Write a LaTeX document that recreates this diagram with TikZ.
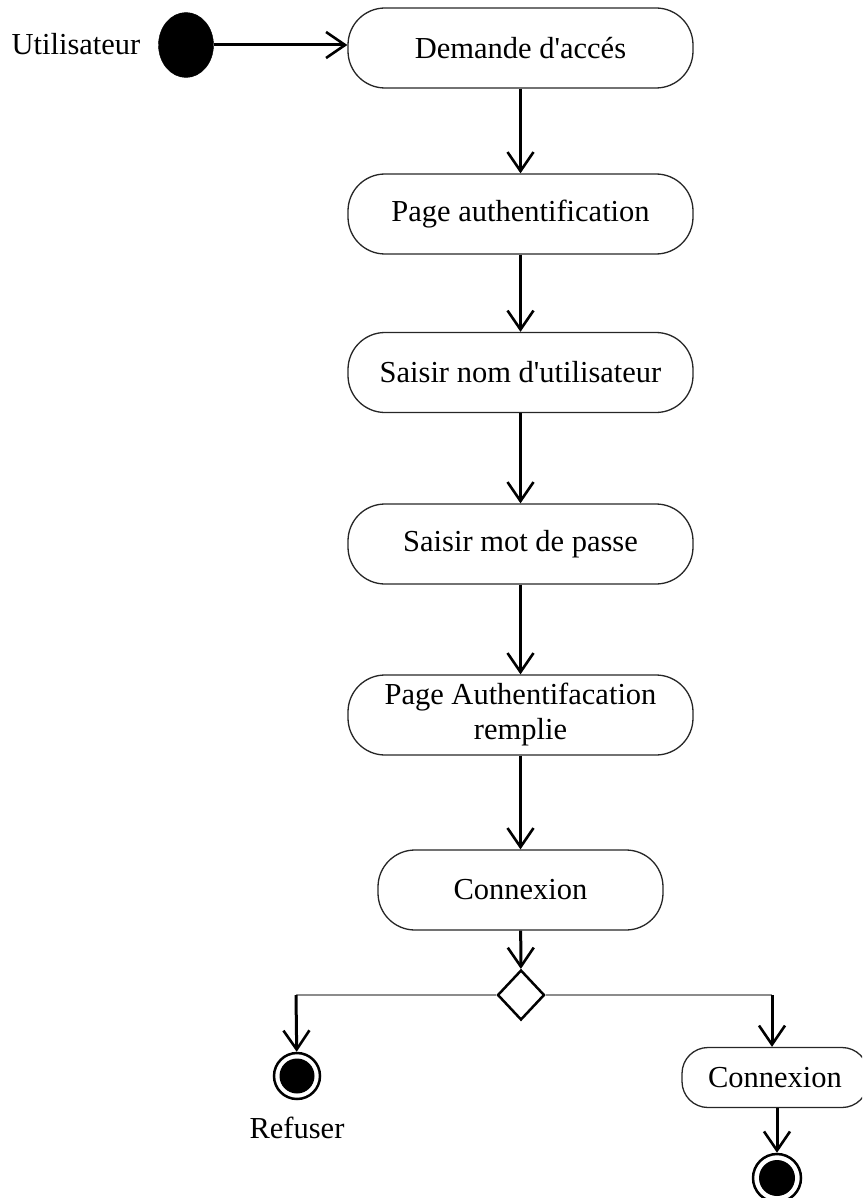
\documentclass[tikz,border=0pt]{standalone}
\usepackage{fontspec}
\setmainfont{Liberation Serif}[Ligatures=TeXOff]
\usetikzlibrary{arrows.meta,shapes.geometric}
\begin{document}
\begin{tikzpicture}[x=1pt,y=-1pt,
  every node/.style={font=\fontsize{30.5}{35}\selectfont},
  activity/.style={draw=black!85,line width=1.3pt,rounded corners=37pt,
    minimum width=345pt,minimum height=80pt,inner sep=0pt,align=center},
  flow/.style={line width=3pt,-{Straight Barb[length=19pt,width=26pt,line width=2.6pt]}},
  branch/.style={draw=black!45,line width=2pt},
]
\clip (0,0) rectangle (862,1198);

% start node and actor label
\node at (76,44) {Utilisateur};
\node (start) [ellipse,fill=black,draw=black,minimum width=55pt,minimum height=65pt,inner sep=0pt] at (186,45) {};

% activities
\node (a1) [activity] at (520.5,48)  {Demande d'accés};
\node (a2) [activity] at (520.5,214) {Page authentification};
\node (a3) [activity] at (520.5,372.5) {Saisir nom d'utilisateur};
\node (a4) [activity] at (520.5,544) {Saisir mot de passe};
\node (a5) [activity] at (520.5,715) {Page Authentifacation\\remplie};
\node (a6) [activity,minimum width=285pt] at (520.5,890) {Connexion};

% decision
\node (dec) [diamond,draw=black,line width=2.5pt,minimum width=47pt,minimum height=50pt,inner sep=0pt] at (521,995) {};

% refused branch
\coordinate (lturn) at (296,995);
\node (endL) [circle,draw=black,line width=2.5pt,minimum size=46pt,inner sep=0pt] at (297,1076) {};
\fill[black] (endL.center) circle (17.5pt);
\node at (297,1128) {Refuser};

% accepted branch
\coordinate (rturn) at (772,995);
\node (a7) [activity,minimum width=186pt,minimum height=60pt,rounded corners=26pt] at (775,1077.5) {Connexion};
\node (endR) [circle,draw=black,line width=2.5pt,minimum size=48pt,inner sep=0pt] at (777,1178) {};
\fill[black] (endR.center) circle (18pt);

% transitions
\draw[flow] (start.east) -- (start.east -| a1.west);
\draw[flow] (a1) -- (a2);
\draw[flow] (a2) -- (a3);
\draw[flow] (a3) -- (a4);
\draw[flow] (a4) -- (a5);
\draw[flow] (a5) -- (a6);
\draw[flow] (a6) -- (dec);
\draw[branch] (dec.west) -- (lturn);
\draw[branch] (dec.east) -- (rturn);
\draw[flow] (lturn) -- (endL);
\draw[flow] (rturn) -- (rturn |- a7.north);
\draw[flow] (a7.south -| endR) -- (endR);
\end{tikzpicture}
\end{document}
